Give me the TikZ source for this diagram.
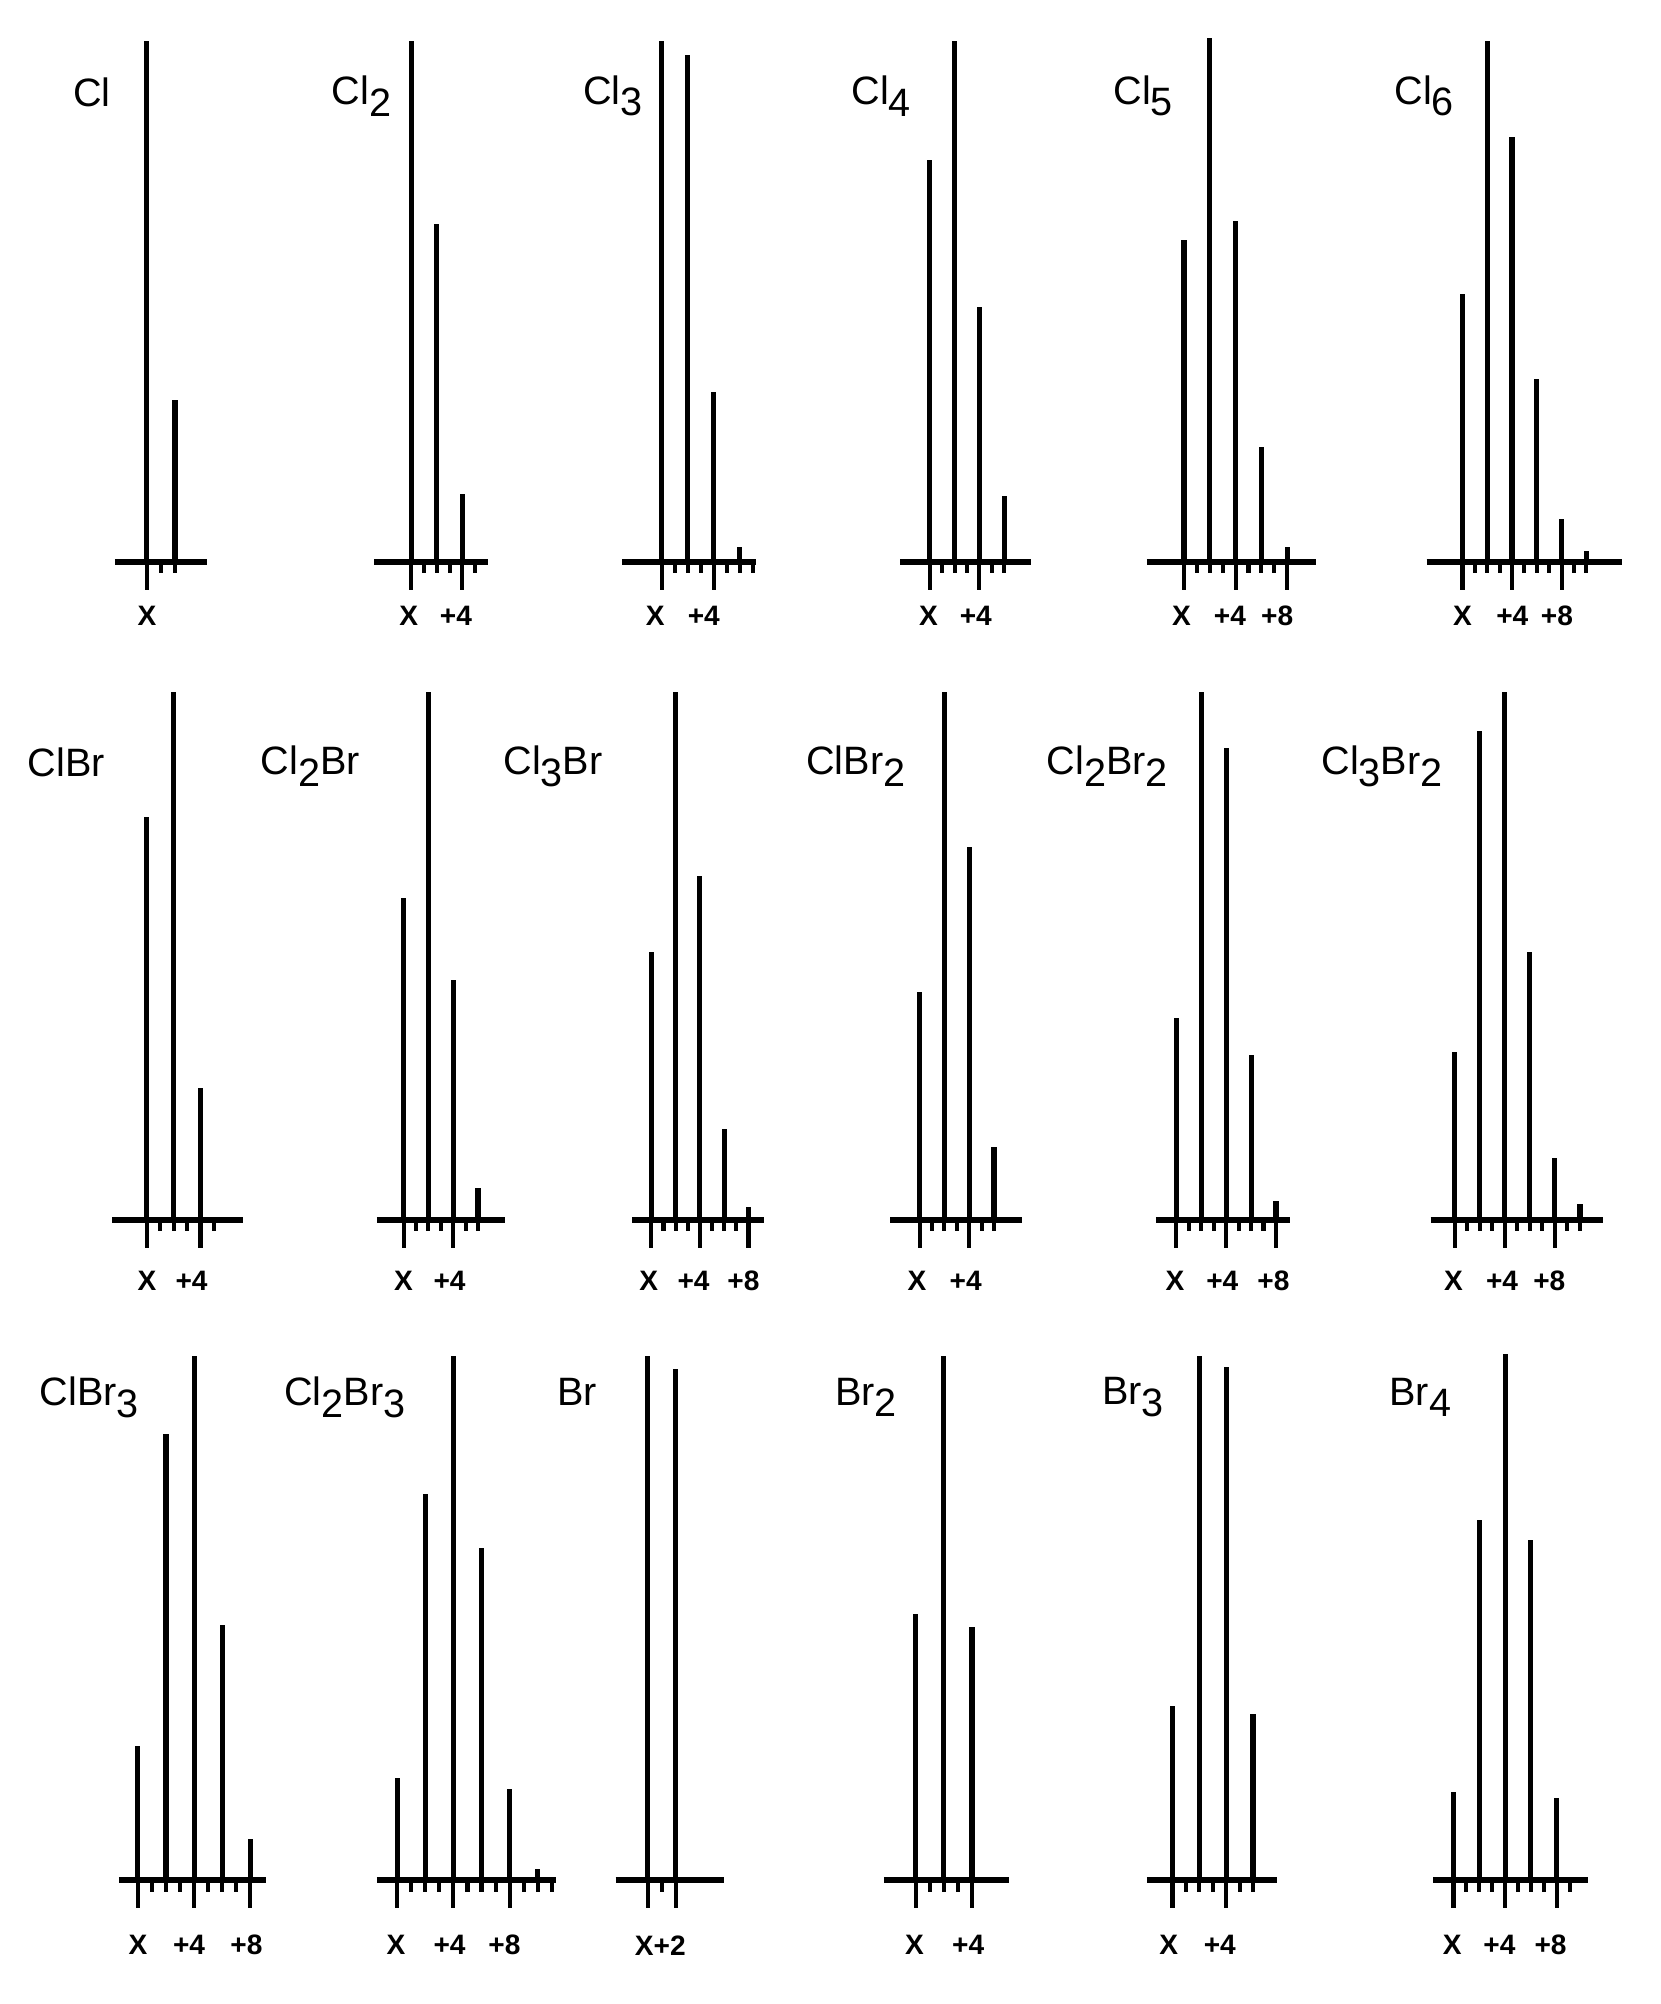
\documentclass[tikz,border=0pt]{standalone}
\usepackage{fontspec}
\setmainfont{Liberation Sans}
\newcommand\sbx[1]{\raisebox{-0.3em}{#1}}
\newcommand\panel[8]{%
  \draw[axis] (#2,#1) -- (#3,#1);
  \foreach \h [count=\i from 0] in {#6} \draw[peak] ({#4+2*\i*#5},#1) -- ({#4+2*\i*#5},\h);
  \foreach \k in {1,...,#7} \draw[tick] ({#4+\k*#5},#1) -- ++(0,9);
  \foreach \k in {#8} \draw[tick] ({#4+\k*#5},#1) -- ++(0,22);
}
\begin{document}
\begin{tikzpicture}[x=0.5pt,y=-0.5pt,
  axis/.style={line width=2.2pt},
  peak/.style={line width=2pt},
  tick/.style={line width=1.6pt},
  lab/.style={font=\fontsize{15.5}{16}\selectfont},
  tl/.style={font=\bfseries\fontsize{11}{11}\selectfont}]
\useasboundingbox (0,0) rectangle (1300,1569);
% Row 1
\panel{440}{90}{162}{115}{11}{32,313}{2}{0}
\node[lab] (l1) at (72,72) {Cl};
\node[tl] at (115,482) {X};
\panel{440}{293}{382}{322}{10}{32,175,387}{5}{0,4}
\node[lab] (l2) at (283,75) {Cl\sbx{2}};
\node[tl] at (320,482) {X}; \node[tl] at (357,482) {+4};
\panel{440}{487}{592}{518}{10.2}{32,43,307,428}{7}{0,4}
\node[lab] (l3) at (480,75) {Cl\sbx{3}};
\node[tl] at (513,482) {X}; \node[tl] at (551,482) {+4};
\panel{440}{705}{807}{728}{9.7}{125,32,240,388}{6}{0,4}
\node[lab] (l4) at (690,75) {Cl\sbx{4}};
\node[tl] at (727,482) {X}; \node[tl] at (764,482) {+4};
\panel{440}{898}{1030}{927}{10.1}{188,30,173,350,428}{8}{0,4,8}
\node[lab] (l5) at (895,75) {Cl\sbx{5}};
\node[tl] at (925,482) {X}; \node[tl] at (963,482) {+4}; \node[tl] at (1000,482) {+8};
\panel{440}{1117}{1270}{1145}{9.7}{230,32,107,297,406,431}{10}{0,4,8}
\node[lab] (l6) at (1115,75) {Cl\sbx{6}};
\node[tl] at (1145,482) {X}; \node[tl] at (1184,482) {+4}; \node[tl] at (1219,482) {+8};
% Row 2
\panel{955}{88}{190}{115}{10.5}{640,542,852}{5}{0,4}
\node[lab] (m1) at (52,597) {ClBr};
\node[tl] at (115,1003) {X}; \node[tl] at (150,1003) {+4};
\panel{955}{295}{395}{316}{9.7}{703,542,767,930}{6}{0,4}
\node[lab] (m2) at (243,600) {Cl\sbx{2}Br};
\node[tl] at (316,1003) {X}; \node[tl] at (352,1003) {+4};
\panel{955}{495}{598}{510}{9.5}{745,542,686,884,945}{8}{0,4,8}
\node[lab] (m3) at (433,600) {Cl\sbx{3}Br};
\node[tl] at (508,1003) {X}; \node[tl] at (543,1003) {+4}; \node[tl] at (582,1003) {+8};
\panel{955}{697}{800}{720}{9.7}{777,542,663,898}{6}{0,4}
\node[lab] (m4) at (670,600) {ClBr\sbx{2}};
\node[tl] at (718,1003) {X}; \node[tl] at (756,1003) {+4};
\panel{955}{905}{1010}{921}{9.75}{797,542,586,826,940}{8}{0,4,8}
\node[lab] (m5) at (867,600) {Cl\sbx{2}Br\sbx{2}};
\node[tl] at (920,1003) {X}; \node[tl] at (957,1003) {+4}; \node[tl] at (997,1003) {+8};
\panel{955}{1120}{1255}{1139}{9.8}{824,572,542,745,907,943}{10}{0,4,8}
\node[lab] (m6) at (1082,600) {Cl\sbx{3}Br\sbx{2}};
\node[tl] at (1138,1003) {X}; \node[tl] at (1176,1003) {+4}; \node[tl] at (1213,1003) {+8};
% Row 3
\panel{1472}{93}{208}{108}{11}{1367,1123,1062,1272,1440}{8}{0,4,8}
\node[lab] (n1) at (70,1094) {ClBr\sbx{3}};
\node[tl] at (108,1523) {X}; \node[tl] at (148,1523) {+4}; \node[tl] at (193,1523) {+8};
\panel{1472}{295}{435}{311}{11}{1392,1170,1062,1212,1401,1463}{11}{0,4,8}
\node[lab] (n2) at (270,1094) {Cl\sbx{2}Br\sbx{3}};
\node[tl] at (310,1523) {X}; \node[tl] at (352,1523) {+4}; \node[tl] at (395,1523) {+8};
\panel{1472}{482}{567}{507}{11}{1062,1072}{2}{0,2}
\node[lab] (n3) at (452,1090) {Br};
\node[tl] at (517,1523) {X+2};
\panel{1472}{692}{790}{717}{11}{1264,1062,1274}{4}{0,4}
\node[lab] (n4) at (678,1094) {Br\sbx{2}};
\node[tl] at (716,1523) {X}; \node[tl] at (758,1523) {+4};
\panel{1472}{898}{1000}{918}{10.5}{1336,1062,1070,1342}{6}{0,4}
\node[lab] (n5) at (887,1094) {Br\sbx{3}};
\node[tl] at (915,1523) {X}; \node[tl] at (955,1523) {+4};
\panel{1472}{1122}{1243}{1138}{10.1}{1403,1190,1060,1206,1408}{9}{0,4,8}
\node[lab] (n6) at (1112,1094) {Br\sbx{4}};
\node[tl] at (1137,1523) {X}; \node[tl] at (1174,1523) {+4}; \node[tl] at (1214,1523) {+8};
\end{tikzpicture}
\end{document}
